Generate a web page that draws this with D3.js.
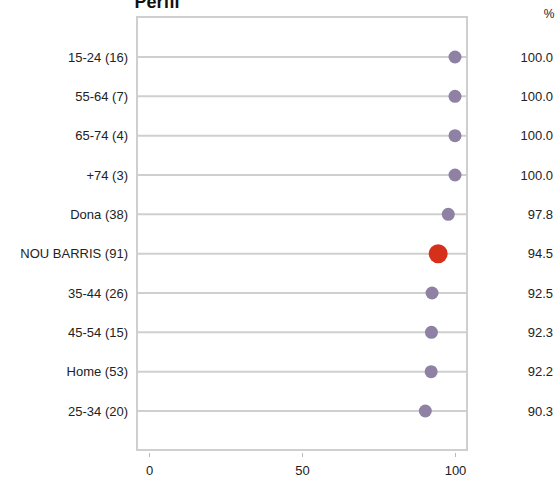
<!DOCTYPE html>
<html><head><meta charset="utf-8">
<script src="https://cdn.jsdelivr.net/npm/d3@7"></script>
<style>body{margin:0;background:#fff}svg{display:block;font-family:"Liberation Sans",Arial,sans-serif}</style>
</head><body><svg id="c" width="556" height="478"></svg>
<script>
const categories = ["15-24 (16)","55-64 (7)","65-74 (4)","+74 (3)","Dona (38)","NOU BARRIS (91)","35-44 (26)","45-54 (15)","Home (53)","25-34 (20)"];
const values = [100.0,100.0,100.0,100.0,97.8,94.5,92.5,92.3,92.2,90.3];
const highlight = ["NOU BARRIS (91)"];
const xTicks = [0,50,100];
const title = "Perfil";

const svg = d3.select("#c");
const box = {l:137, r:467, t:17, b:450};
const x = d3.scaleLinear().domain([0,100]).range([149,455]);
const y = d3.scalePoint().domain(categories).range([57,411]);

svg.append("text").attr("x",157).attr("y",8).attr("text-anchor","middle")
  .attr("font-weight","bold").attr("font-size",18).attr("fill","#111").text(title);

svg.append("rect").attr("x",box.l).attr("y",box.t).attr("width",box.r-box.l).attr("height",box.b-box.t)
  .attr("fill","none").attr("stroke","#cfcfcf").attr("stroke-width",2);

const rows = svg.append("g");
categories.forEach((c,i)=>{
  const yy = y(c);
  rows.append("line").attr("x1",box.l).attr("x2",box.r).attr("y1",yy).attr("y2",yy)
    .attr("stroke","#cfcfcf").attr("stroke-width",2);
  rows.append("text").attr("x",128).attr("y",yy).attr("dy","0.35em").attr("text-anchor","end")
    .attr("font-size",13).attr("fill","#222").text(c);
  const hl = highlight.includes(c);
  rows.append("circle").attr("cx",x(values[i])).attr("cy",yy).attr("r",hl?9.5:6.5)
    .attr("fill",hl?"#d6301a":"#8e81a3");
  rows.append("text").attr("x",553).attr("y",yy).attr("dy","0.35em").attr("text-anchor","end")
    .attr("font-size",13).attr("fill","#222").text(values[i].toFixed(1));
});

svg.append("text").attr("x",549).attr("y",14).attr("dy","0.35em").attr("text-anchor","middle").attr("font-size",12).attr("fill","#222").text("%");

const ax = svg.append("g").attr("transform",`translate(0,${box.b+3})`)
  .call(d3.axisBottom(x).tickValues(xTicks).tickSize(4).tickSizeOuter(0).tickPadding(9));
ax.select(".domain").remove();
ax.selectAll(".tick line").attr("stroke","#bbb");
ax.selectAll(".tick text").attr("font-size",13).attr("fill","#222").attr("font-family","Liberation Sans, Arial, sans-serif");
</script></body></html>
